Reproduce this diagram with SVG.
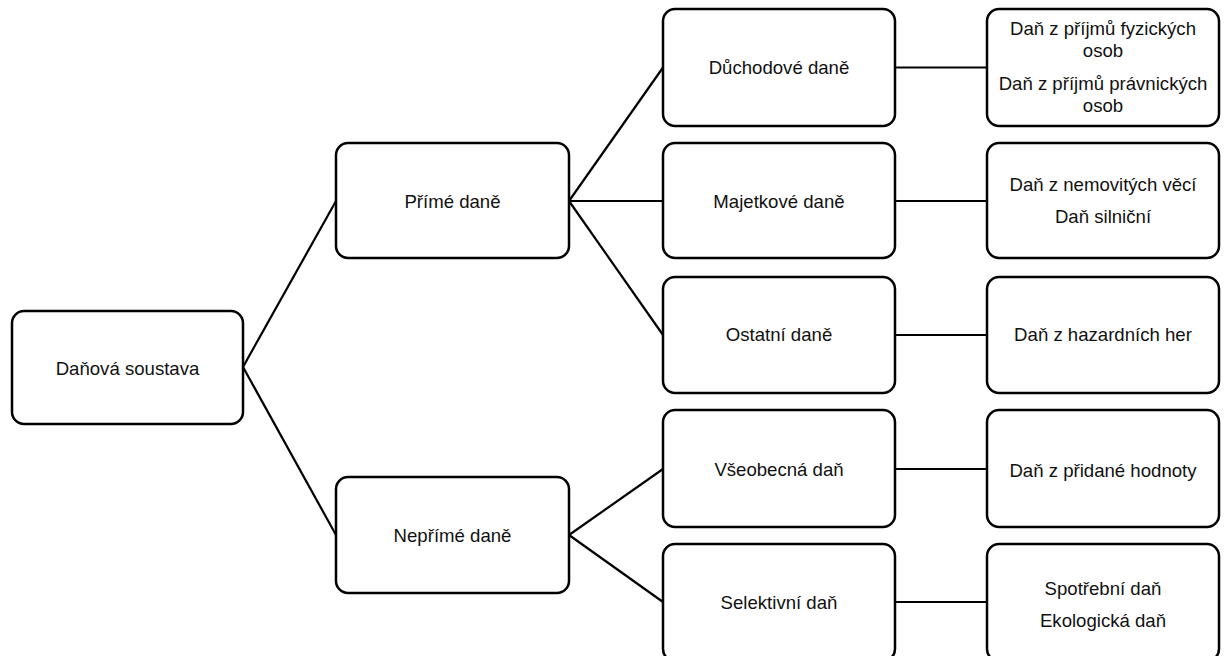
<svg xmlns="http://www.w3.org/2000/svg" width="1226" height="656" viewBox="0 0 1226 656">
<style>
.box{fill:#fff;stroke:#000;stroke-width:2.5}
.t{font-family:"Liberation Sans",Arial,sans-serif;font-size:18.6px;fill:#111;text-anchor:middle}
.c line{stroke:#000;stroke-width:2.2;fill:none}
</style>
<rect width="1226" height="656" fill="#fff"/>
<g class="c" id="connectors">
<line x1="243" y1="367" x2="336" y2="201"/>
<line x1="243" y1="367" x2="336" y2="535"/>
<line x1="569" y1="201" x2="663" y2="67.5"/>
<line x1="569" y1="201" x2="663" y2="201"/>
<line x1="569" y1="201" x2="663" y2="335"/>
<line x1="569" y1="535" x2="663" y2="469"/>
<line x1="569" y1="535" x2="663" y2="602"/>
<line x1="895" y1="67.5" x2="987" y2="67.5"/>
<line x1="895" y1="201" x2="987" y2="201"/>
<line x1="895" y1="335" x2="987" y2="335"/>
<line x1="895" y1="469" x2="987" y2="469"/>
<line x1="895" y1="602" x2="987" y2="602"/>
</g>
<g id="n-root"><rect class="box" x="12" y="311" width="231" height="113" rx="12"/><text class="t" x="127.5" y="375">Daňová soustava</text></g>
<g id="n-prime"><rect class="box" x="336" y="143" width="233" height="115" rx="12"/><text class="t" x="452.5" y="208">Přímé daně</text></g>
<g id="n-neprime"><rect class="box" x="336" y="477" width="233" height="116" rx="12"/><text class="t" x="452.5" y="542">Nepřímé daně</text></g>
<g id="n-duchod"><rect class="box" x="663" y="9" width="232" height="117" rx="12"/><text class="t" x="779" y="74">Důchodové daně</text></g>
<g id="n-majetek"><rect class="box" x="663" y="143" width="232" height="115" rx="12"/><text class="t" x="779" y="208">Majetkové daně</text></g>
<g id="n-ostatni"><rect class="box" x="663" y="277" width="232" height="116" rx="12"/><text class="t" x="779" y="341">Ostatní daně</text></g>
<g id="n-vseob"><rect class="box" x="663" y="410" width="232" height="117" rx="12"/><text class="t" x="779" y="476">Všeobecná daň</text></g>
<g id="n-selekt"><rect class="box" x="663" y="544" width="232" height="117" rx="12"/><text class="t" x="779" y="609">Selektivní daň</text></g>
<g id="n-prijmy"><rect class="box" x="987" y="9" width="232" height="117" rx="12"/>
<text class="t" x="1103" y="35">Daň z příjmů fyzických</text>
<text class="t" x="1103" y="57">osob</text>
<text class="t" x="1103" y="90">Daň z příjmů právnických</text>
<text class="t" x="1103" y="112">osob</text></g>
<g id="n-nemovite"><rect class="box" x="987" y="143" width="232" height="115" rx="12"/>
<text class="t" x="1103" y="191">Daň z nemovitých věcí</text>
<text class="t" x="1103" y="223">Daň silniční</text></g>
<g id="n-hazard"><rect class="box" x="987" y="277" width="232" height="116" rx="12"/><text class="t" x="1103" y="341">Daň z hazardních her</text></g>
<g id="n-dph"><rect class="box" x="987" y="410" width="232" height="117" rx="12"/><text class="t" x="1103" y="477">Daň z přidané hodnoty</text></g>
<g id="n-spotreb"><rect class="box" x="987" y="544" width="232" height="117" rx="12"/>
<text class="t" x="1103" y="595">Spotřební daň</text>
<text class="t" x="1103" y="627">Ekologická daň</text></g>
</svg>
